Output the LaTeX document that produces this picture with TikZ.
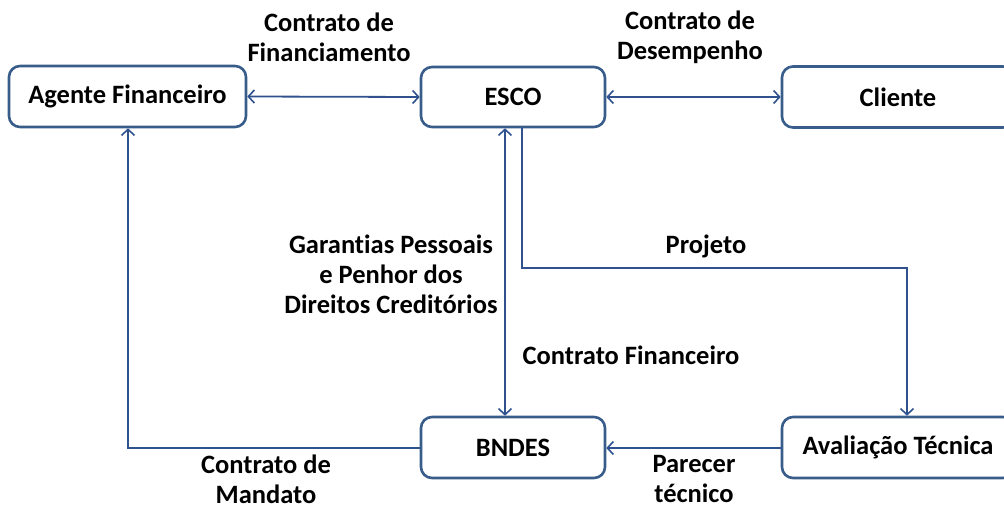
\documentclass[tikz,border=0pt]{standalone}
\usepackage{fontspec}
\setmainfont[Ligatures={NoCommon}]{Carlito}
\usetikzlibrary{arrows.meta}
\definecolor{boxc}{RGB}{56,93,138}
\definecolor{linec}{RGB}{47,82,143}
\begin{document}
\begin{tikzpicture}[x=1pt,y=-1pt,
  every node/.style={font=\fontsize{26.5}{30}\selectfont\bfseries},
  bx/.style={draw=boxc,line width=2.6pt,rounded corners=11pt,fill=white,inner sep=0pt},
  conn/.style={draw=linec,line width=1.8pt},
  tip/.style={-{Straight Barb[length=6pt,width=13pt,line width=1.6pt]}},
  dtip/.style={{Straight Barb[length=6pt,width=13pt,line width=1.6pt]}-{Straight Barb[length=6pt,width=13pt,line width=1.6pt]}},
  lbl/.style={align=center,inner sep=0pt}]
\useasboundingbox (0,0) rectangle (1004,508);
\node[bx,minimum width=237pt,minimum height=61pt] (af) at (127.5,96.5) {Agente Financeiro};
\node[bx,minimum width=184pt,minimum height=60pt] (esco) at (513,97) {ESCO};
\node[bx,minimum width=232pt,minimum height=61pt] (cli) at (898,97) {Cliente};
\node[bx,minimum width=184pt,minimum height=61pt] (bndes) at (513,447.5) {BNDES};
\node[bx,minimum width=232pt,minimum height=61pt] (aval) at (898,447.5) {Avaliação Técnica};
\coordinate (xa) at (505,0);
\coordinate (xb) at (522,0);
\coordinate (xc) at (907,0);
\coordinate (xd) at (128,0);
\coordinate (p1) at (522,268);
\coordinate (p2) at (907,268);
\coordinate (p3) at (128,448);
\draw[conn,dtip] (af.east) -- (esco.west);
\draw[conn,dtip] (esco.east) -- (cli.west);
\draw[conn,dtip] (esco.south -| xa) -- (bndes.north -| xa);
\draw[conn,tip] (esco.south -| xb) -- (p1) -- (p2) -- (aval.north -| xc);
\draw[conn,tip] (aval.west |- p3) -- (bndes.east |- p3);
\draw[conn,tip] (bndes.west |- p3) -- (p3) -- (af.south -| xd);
\node[lbl] (l1) at (329,37) {Contrato de\\Financiamento};
\node[lbl] (l2) at (690,37) {Contrato de\\Desempenho};
\node[lbl] (l3) at (391,274) {Garantias Pessoais\\e Penhor dos\\Direitos Creditórios};
\node[lbl] (l4) at (706,246) {Projeto};
\node[lbl] (l5) at (631,355) {Contrato Financeiro};
\node[lbl] (l6) at (266,479) {Contrato de\\Mandato};
\node[lbl] (l7) at (694,479) {Parecer\\técnico};
\end{tikzpicture}
\end{document}
